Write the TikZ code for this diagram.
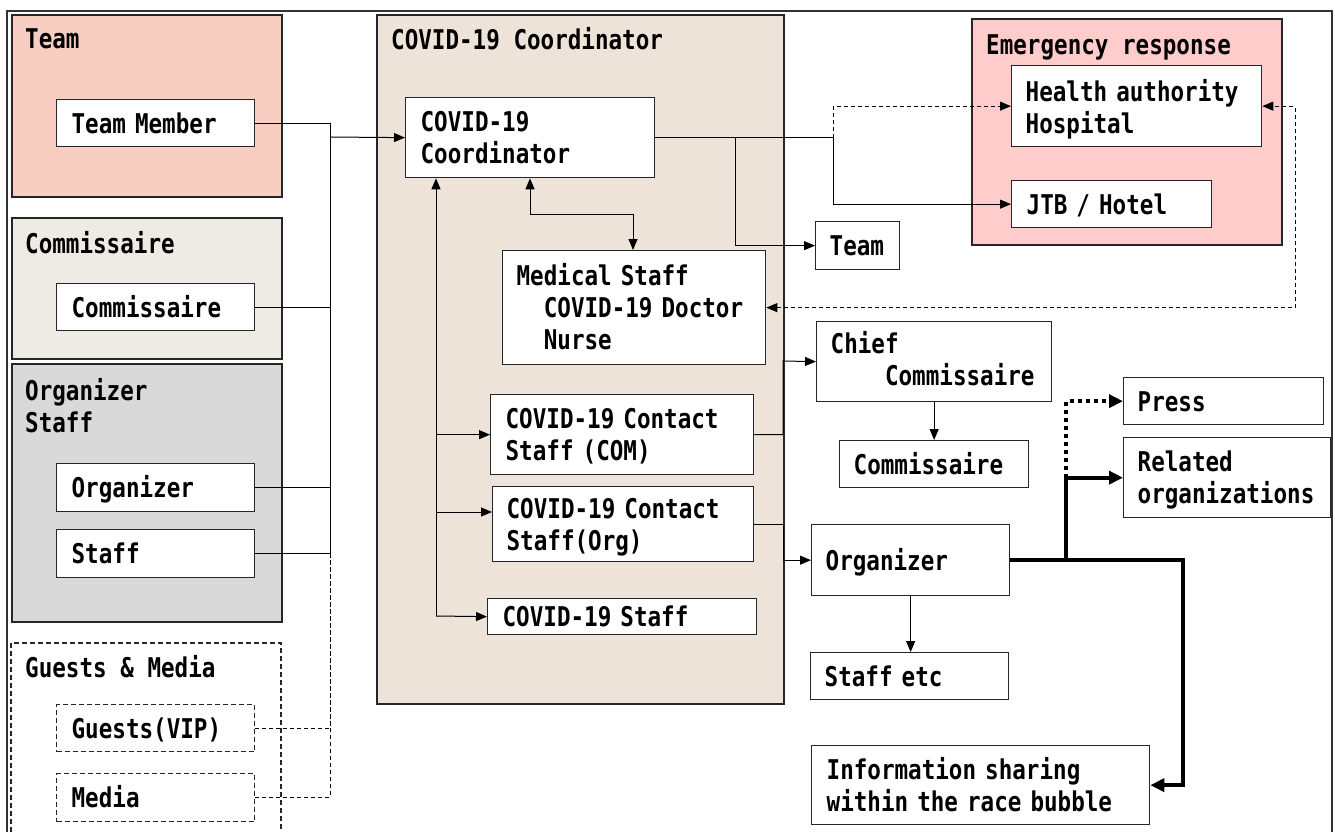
\documentclass[tikz,border=0pt]{standalone}
\usepackage{fontspec}
\newfontfamily\gfont[FakeStretch=0.83]{DejaVu Sans Mono}
\usetikzlibrary{arrows.meta}
\definecolor{teampink}{HTML}{F8CEC2}
\definecolor{combeige}{HTML}{EEEBE4}
\definecolor{orggray}{HTML}{D9D9D9}
\definecolor{covidbg}{HTML}{EDE3D9}
\definecolor{emerpink}{HTML}{FFCCCC}
\begin{document}
\begin{tikzpicture}[x=1pt,y=-1pt,
  txt/.style={font=\gfont\bfseries\fontsize{27.2}{32}\selectfont},
  grp/.style={draw=black!85, line width=2.2pt, anchor=north west, inner sep=0pt},
  lbl/.style={txt, anchor=base west, inner sep=0pt},
  bx/.style={draw=black!85, line width=1.3pt, fill=white, anchor=north west, txt, align=left,
     inner ysep=0pt, text height=20pt, text depth=0pt},
  dbx/.style={bx, dash pattern=on 5pt off 3pt},
  conn/.style={line width=1pt, draw=black},
  dconn/.style={conn, dash pattern=on 4pt off 3pt},
  arr/.style={conn, -{Triangle[length=11pt,width=9pt]}},
  darr/.style={dconn, -{Triangle[length=11pt,width=9pt]}},
  ddarr/.style={dconn, {Triangle[length=11pt,width=9pt]}-{Triangle[length=11pt,width=9pt]}},
  dblarr/.style={conn, {Triangle[length=11pt,width=9pt]}-{Triangle[length=11pt,width=9pt]}},
  tarr/.style={line width=4pt, draw=black, -{Triangle[length=14pt,width=13pt]}},
  dotarr/.style={tarr, dash pattern=on 4pt off 4pt}
]
\useasboundingbox (0,0) rectangle (1335,832);
\fill[white] (0,0) rectangle (1335,832);

% outer frame
\draw[line width=1.3pt, black!80] (7,840) -- (7,11) -- (1332,11) -- (1332,840);

% groups
\node[grp, fill=teampink, minimum width=270pt, minimum height=182pt] (gteam) at (11,14) {};
\node[grp, fill=combeige, minimum width=270pt, minimum height=141pt] (gcom) at (11,217) {};
\node[grp, fill=orggray, minimum width=270pt, minimum height=258pt] (gorg) at (11,363) {};
\draw[line width=1.3pt, black!85, dash pattern=on 5pt off 3pt] (11,840) -- (11,643) -- (281,643) -- (281,840);
\node[grp, fill=covidbg, minimum width=407pt, minimum height=689pt] (gcovid) at (376,14) {};
\node[grp, fill=emerpink, minimum width=310pt, minimum height=226pt] (gemer) at (971,18) {};

% group labels
\node[lbl] (lteam) at (25,49) {Team};
\node[lbl] (lcom) at (25,253) {Commissaire};
\node[txt, anchor=north west, inner sep=0pt, text width=240pt, align=left, text height=20pt] (lorg) at (25,380) {Organizer\\Staff};
\node[lbl] (lguest) at (25,677) {Guests \& Media};
\node[lbl] (lcovid) at (391,50) {COVID-19 Coordinator};
\node[lbl] (lemer) at (986,55) {Emergency response};

% left boxes
\node[bx, minimum width=198pt, minimum height=47pt, inner xsep=15pt, text width=168pt] (tm) at (56,99) {Team~Member};
\node[bx, minimum width=198pt, minimum height=47pt, inner xsep=15pt, text width=168pt] (comL) at (56,283) {Commissaire};
\node[bx, minimum width=198pt, minimum height=48pt, inner xsep=15pt, text width=168pt] (orgL) at (56,463) {Organizer};
\node[bx, minimum width=198pt, minimum height=48pt, inner xsep=15pt, text width=168pt] (stfL) at (56,529) {Staff};
\node[dbx, minimum width=198pt, minimum height=47pt, inner xsep=15pt, text width=168pt] (vip) at (56,704) {Guests(VIP)};
\node[dbx, minimum width=198pt, minimum height=48pt, inner xsep=15pt, text width=168pt] (media) at (56,773) {Media};

% covid boxes
\node[bx, minimum width=249pt, minimum height=80pt, inner xsep=15pt, text width=219pt, text depth=32pt] (coord) at (405,97) {COVID-19\\Coordinator};
\node[bx, minimum width=263pt, minimum height=114pt, inner xsep=14pt, text width=235pt, text depth=64pt] (med) at (502,250) {Medical~Staff\\\hspace*{27.2pt}COVID-19~Doctor\\\hspace*{27.2pt}Nurse};
\node[bx, minimum width=263pt, minimum height=80pt, inner xsep=15pt, text width=233pt, text depth=32pt] (com2) at (490,394) {COVID-19~Contact\\Staff~(COM)};
\node[bx, minimum width=261pt, minimum height=75pt, inner xsep=14pt, text width=233pt, text depth=32pt] (org2) at (492,486) {COVID-19~Contact\\Staff(Org)};
\node[bx, minimum width=269pt, minimum height=36pt, inner xsep=15pt, text width=239pt] (cs) at (487,598) {COVID-19~Staff};

% right boxes
\node[bx, minimum width=250pt, minimum height=81pt, inner xsep=14pt, text width=222pt, text depth=30pt] (hosp) at (1011,65) {Health~authority\\Hospital};
\node[bx, minimum width=200pt, minimum height=47pt, inner xsep=15pt, text width=170pt] (jtb) at (1011,180) {JTB~/~Hotel};
\node[bx, minimum width=84pt, minimum height=48pt, inner xsep=14pt, text width=56pt] (teamR) at (815,221) {Team};
\node[bx, minimum width=235pt, minimum height=80pt, inner xsep=14pt, text width=207pt, text depth=36pt] (chief) at (816,321) {Chief\\\hspace*{54.4pt}Commissaire};
\node[bx, minimum width=189pt, minimum height=47pt, inner xsep=14pt, text width=161pt] (comR) at (839,440) {Commissaire};
\node[bx, minimum width=198pt, minimum height=71pt, inner xsep=14pt, text width=170pt] (orgR) at (811,524) {Organizer};
\node[bx, minimum width=198pt, minimum height=47pt, inner xsep=14pt, text width=170pt] (stfR) at (810,652) {Staff~etc};
\node[bx, minimum width=338pt, minimum height=79pt, inner xsep=15pt, text width=308pt, text depth=32pt] (info) at (811,745) {Information~sharing\\within~the~race~bubble};
\node[bx, minimum width=200pt, minimum height=47pt, inner xsep=14pt, text width=172pt] (press) at (1123,377) {Press};
\node[bx, minimum width=207pt, minimum height=80pt, inner xsep=14pt, text width=179pt, text depth=32pt] (rel) at (1123,437) {Related\\organizations};

% left bus
\coordinate (bus) at (330,137);
\draw[dconn] (vip.east) -| (bus);
\draw[dconn] (media.east) -| (bus);
\draw[conn] (tm.east) -| (bus);
\draw[conn] (comL.east) -| (bus);
\draw[conn] (orgL.east) -| (bus);
\draw[conn] (stfL.east) -| (bus);
\draw[arr] (bus) -- (coord.west);

% inside covid group
\coordinate (m1) at (530,214);
\coordinate (m2) at (633,214);
\draw[dblarr] (coord.south -| m1) -- (m1) -- (m2) -- (med.north -| m2);
\coordinate (vb) at (436,616);
\coordinate (vb2) at (436,512);
\draw[arr] (vb) -- (vb |- coord.south);
\draw[arr] (vb |- com2.west) -- (com2.west);
\draw[arr] (vb2) -- (vb2 -| org2.west);
\draw[arr] (vb) -- (cs.west);

% right side
\coordinate (r1) at (735,137);
\coordinate (r2) at (833,137);
\coordinate (r3) at (1295,307);
\coordinate (r4) at (783,361);
\coordinate (r5) at (783,523);
\draw[arr] (coord.east) -- (coord.east -| r1) |- (teamR.west);
\draw[arr] (coord.east) -- (coord.east -| r2) |- (jtb.west);
\draw[darr] (coord.east -| r2) |- (hosp.west);
\draw[ddarr] (med.east) -- (med.east -| r3) |- (hosp.east);
\draw[arr] (com2.east) -| (r4) -- (chief.west);
\draw[arr] (org2.east) -- (org2.east -| r5) |- (orgR.west);
\draw[arr] (chief.south) -- (chief.south |- comR.north);
\draw[arr] (orgR.south) -- (orgR.south |- stfR.north);

% thick connectors
\coordinate (t1) at (1066,559);
\coordinate (t2) at (1183,559);
\draw[tarr] (orgR.east) -- (orgR.east -| t2) |- (info.east);
\draw[tarr] (orgR.east -| t1) |- (rel.west);
\draw[dotarr] (t1 |- rel.west) |- (press.west);
\end{tikzpicture}
\end{document}
